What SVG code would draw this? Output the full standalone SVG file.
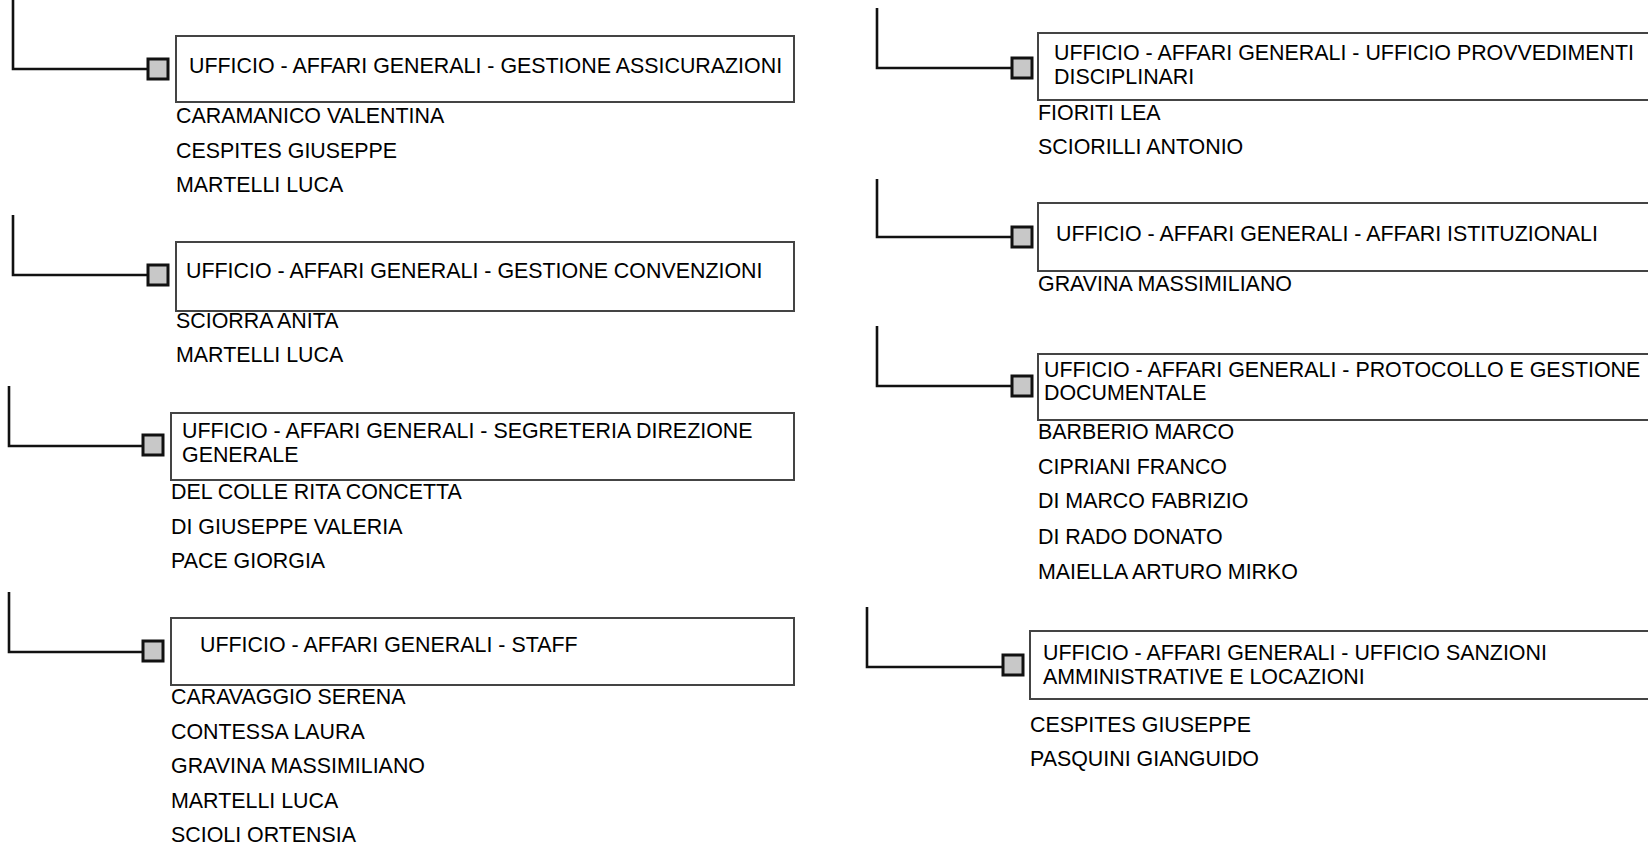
<svg xmlns="http://www.w3.org/2000/svg" width="1648" height="844" viewBox="0 0 1648 844">
<style>
.bg{fill:#ffffff}
.conn{fill:none;stroke:#111;stroke-width:2.6}
.sq{fill:#c8c8c8;stroke:#111;stroke-width:3}
.box{fill:#ffffff;stroke:#444;stroke-width:2}
.t{font-family:"Liberation Sans",Arial,sans-serif;font-size:21.4px;fill:#000}
</style>
<rect class="bg" x="0" y="0" width="1648" height="844"/>
<g id="connectors">
<path class="conn" d="M13 0 V69 H148"/>
<path class="conn" d="M13 215 V275 H148"/>
<path class="conn" d="M9 386 V446 H143"/>
<path class="conn" d="M9 592 V652 H143"/>
<path class="conn" d="M877 8 V68 H1012"/>
<path class="conn" d="M877 179 V237 H1012"/>
<path class="conn" d="M877 326 V386 H1012"/>
<path class="conn" d="M867 607 V667 H1003"/>
</g>
<g id="n1">
<rect class="sq" x="148" y="59" width="20" height="20"/>
<rect class="box" x="176" y="36" width="618" height="66"/>
<text class="t" x="189" y="73">UFFICIO - AFFARI GENERALI - GESTIONE ASSICURAZIONI</text>
<text class="t" x="176" y="123">CARAMANICO VALENTINA</text>
<text class="t" x="176" y="158">CESPITES GIUSEPPE</text>
<text class="t" x="176" y="192">MARTELLI LUCA</text>
</g>
<g id="n2">
<rect class="sq" x="148" y="265" width="20" height="20"/>
<rect class="box" x="176" y="242" width="618" height="69"/>
<text class="t" x="186" y="278">UFFICIO - AFFARI GENERALI - GESTIONE CONVENZIONI</text>
<text class="t" x="176" y="328">SCIORRA ANITA</text>
<text class="t" x="176" y="362">MARTELLI LUCA</text>
</g>
<g id="n3">
<rect class="sq" x="143" y="435" width="20" height="20"/>
<rect class="box" x="171" y="413" width="623" height="67"/>
<text class="t" x="182" y="438">UFFICIO - AFFARI GENERALI - SEGRETERIA DIREZIONE</text>
<text class="t" x="182" y="462">GENERALE</text>
<text class="t" x="171" y="499">DEL COLLE RITA CONCETTA</text>
<text class="t" x="171" y="534">DI GIUSEPPE VALERIA</text>
<text class="t" x="171" y="568">PACE GIORGIA</text>
</g>
<g id="n4">
<rect class="sq" x="143" y="641" width="20" height="20"/>
<rect class="box" x="171" y="618" width="623" height="67"/>
<text class="t" x="200" y="652">UFFICIO - AFFARI GENERALI - STAFF</text>
<text class="t" x="171" y="704">CARAVAGGIO SERENA</text>
<text class="t" x="171" y="739">CONTESSA LAURA</text>
<text class="t" x="171" y="773">GRAVINA MASSIMILIANO</text>
<text class="t" x="171" y="808">MARTELLI LUCA</text>
<text class="t" x="171" y="842">SCIOLI ORTENSIA</text>
</g>
<g id="n5">
<rect class="sq" x="1012" y="58" width="20" height="20"/>
<rect class="box" x="1038" y="33" width="630" height="67"/>
<text class="t" x="1054" y="60">UFFICIO - AFFARI GENERALI - UFFICIO PROVVEDIMENTI</text>
<text class="t" x="1054" y="84">DISCIPLINARI</text>
<text class="t" x="1038" y="120">FIORITI LEA</text>
<text class="t" x="1038" y="154">SCIORILLI ANTONIO</text>
</g>
<g id="n6">
<rect class="sq" x="1012" y="227" width="20" height="20"/>
<rect class="box" x="1038" y="203" width="630" height="68"/>
<text class="t" x="1056" y="241">UFFICIO - AFFARI GENERALI - AFFARI ISTITUZIONALI</text>
<text class="t" x="1038" y="291">GRAVINA MASSIMILIANO</text>
</g>
<g id="n7">
<rect class="sq" x="1012" y="376" width="20" height="20"/>
<rect class="box" x="1038" y="354" width="630" height="66"/>
<text class="t" x="1044" y="377">UFFICIO - AFFARI GENERALI - PROTOCOLLO E GESTIONE</text>
<text class="t" x="1044" y="400">DOCUMENTALE</text>
<text class="t" x="1038" y="439">BARBERIO MARCO</text>
<text class="t" x="1038" y="474">CIPRIANI FRANCO</text>
<text class="t" x="1038" y="508">DI MARCO FABRIZIO</text>
<text class="t" x="1038" y="544">DI RADO DONATO</text>
<text class="t" x="1038" y="579">MAIELLA ARTURO MIRKO</text>
</g>
<g id="n8">
<rect class="sq" x="1003" y="655" width="20" height="20"/>
<rect class="box" x="1030" y="631" width="640" height="68"/>
<text class="t" x="1043" y="660">UFFICIO - AFFARI GENERALI - UFFICIO SANZIONI</text>
<text class="t" x="1043" y="684">AMMINISTRATIVE E LOCAZIONI</text>
<text class="t" x="1030" y="732">CESPITES GIUSEPPE</text>
<text class="t" x="1030" y="766">PASQUINI GIANGUIDO</text>
</g>
</svg>
